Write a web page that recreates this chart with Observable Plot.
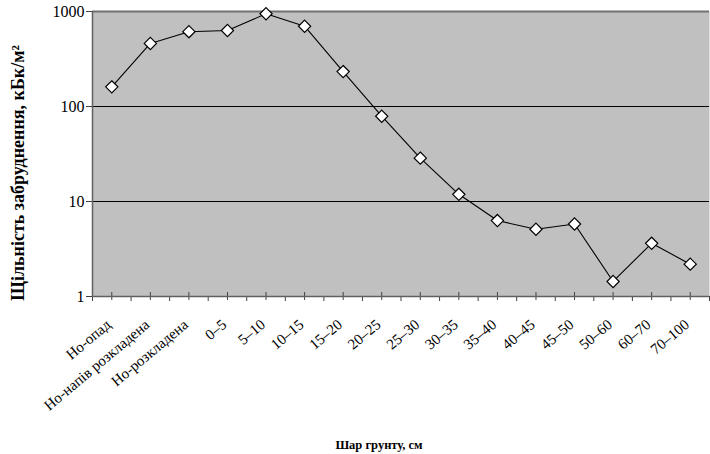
<!DOCTYPE html>
<html>
<head>
<meta charset="utf-8">
<script src="https://cdn.jsdelivr.net/npm/d3@7"></script>
<script src="https://cdn.jsdelivr.net/npm/@observablehq/plot@0.6"></script>
<style>
  html, body { margin: 0; padding: 0; background: white; }
</style>
</head>
<body>
<div id="chart"></div>
<script>
const categories = ["Но-опад", "Но-напів розкладена", "Но-розкладена", "0–5", "5–10", "10–15", "15–20", "20–25", "25–30", "30–35", "35–40", "40–45", "45–50", "50–60", "60–70", "70–100"];
const values = [161, 461, 613, 631, 946, 700, 233, 79, 28.6, 11.9, 6.3, 5.1, 5.8, 1.44, 3.63, 2.19];
const yTicks = [1, 10, 100, 1000];
const gridValues = [10, 100];
const yTitle = "Щільність забруднення, кБк/м²";
const xTitle = "Шар грунту, см";

const data = categories.map((c, i) => ({pos: i + 0.5, cat: c, value: values[i]}));
const centers = data.map(d => d.pos);
const bounds = d3.range(0, categories.length + 1);

const chart = Plot.plot({
  width: 710,
  height: 454,
  marginLeft: 92,
  marginRight: 1,
  marginTop: 11,
  marginBottom: 158,
  style: {fontFamily: "'Liberation Serif', 'Times New Roman', serif", fontSize: "15px", color: "black", background: "white"},
  x: {type: "linear", domain: [0, categories.length], axis: null},
  y: {type: "log", domain: [1, 1000], axis: null},
  marks: [
    Plot.frame({fill: "#c0c0c0", stroke: null}),
    Plot.ruleY(gridValues, {stroke: "black", strokeWidth: 1.2}),
    Plot.ruleY([1000], {stroke: "#707070", strokeWidth: 2}),
    Plot.axisY({ticks: yTicks, tickFormat: d => String(d), tickSize: 6, tickPadding: 2, label: null, fontSize: 16, stroke: "#404040"}),
    Plot.axisX({ticks: bounds, tickSize: 5, tickFormat: () => "", label: null, stroke: "#404040"}),
    Plot.axisX({ticks: centers, tickSize: 8, dy: -4, tickFormat: () => "", label: null, stroke: "#404040"}),
    Plot.axisX({ticks: centers, tickSize: 0, tickPadding: 26, tickRotate: -40, dx: -3, tickFormat: d => categories[Math.floor(d)], label: null, fontSize: 15}),
    Plot.ruleX([0], {stroke: "#606060", strokeWidth: 1.5}),
    Plot.ruleY([1], {stroke: "#606060", strokeWidth: 1.5}),
    Plot.line(data, {x: "pos", y: "value", stroke: "black", strokeWidth: 1.1}),
    Plot.dot(data, {x: "pos", y: "value", symbol: "diamond2", r: 5.5, fill: "white", stroke: "black", strokeWidth: 1.2}),
    Plot.text([yTitle], {frameAnchor: "left", textAnchor: "middle", dx: -74, dy: 19, rotate: -90, fontSize: 18, fontWeight: "bold"}),
    Plot.text([xTitle], {frameAnchor: "bottom", dx: -22, dy: 152, fontSize: 12.5, fontWeight: "bold"})
  ]
});
document.getElementById("chart").appendChild(chart);
</script>
</body>
</html>
